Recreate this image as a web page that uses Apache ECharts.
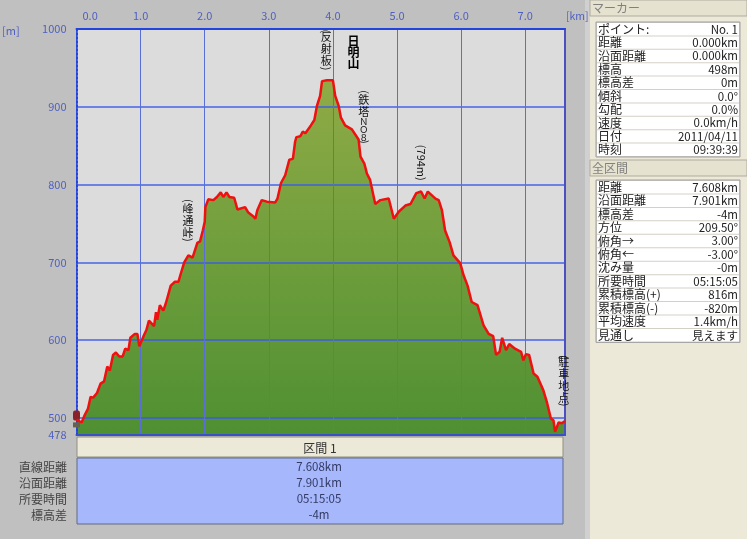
<!DOCTYPE html>
<html>
<head>
<meta charset="utf-8">
<script src="https://cdn.jsdelivr.net/npm/echarts@6/dist/echarts.min.js"></script>
<style>
html,body{margin:0;padding:0;background:#c0c0c0;}
#main{width:747px;height:539px;}
</style>
</head>
<body>
<div id="main"></div>
<script>
var km = [0,0.08,0.13,0.18,0.22,0.26,0.32,0.375,0.43,0.48,0.52,0.57,0.615,0.667,0.72,0.76,0.81,0.84,0.91,0.95,0.98,1.005,1.05,1.09,1.13,1.21,1.24,1.26,1.30,1.354,1.396,1.47,1.536,1.59,1.625,1.68,1.745,1.81,1.885,1.927,1.97,2.0,2.01,2.055,2.135,2.19,2.25,2.29,2.34,2.385,2.46,2.51,2.63,2.68,2.76,2.79,2.82,2.89,2.97,3.1,3.135,3.19,3.255,3.32,3.375,3.41,3.43,3.49,3.53,3.57,3.656,3.71,3.75,3.80,3.83,3.906,4.0,4.036,4.09,4.125,4.19,4.296,4.40,4.43,4.49,4.53,4.58,4.66,4.74,4.87,4.95,5.026,5.13,5.21,5.30,5.375,5.43,5.48,5.6,5.65,5.70,5.75,5.82,5.88,5.985,6.04,6.10,6.165,6.255,6.35,6.43,6.50,6.545,6.6,6.64,6.70,6.75,6.84,6.935,6.97,7.01,7.06,7.13,7.19,7.28,7.335,7.40,7.44,7.465,7.52,7.57,7.62];
var elev = [498,494,504,512,527,526,532,544,547,566,561,581,584,579,579,589,587,603,608,608,592,592,606,613,625,618,636,626,645,638,648,670,675,675,685,700,709,706,725,727,741,752,771,781,780,784,790,784,790,784,783,768,771,764,759,756,767,780,778,777,782,802,812,832,833,855,861,862,868,866,876,883,901,914,933,934,934,914,901,886,876,871,858,836,827,814,806,775,780,782,756,765,773,775,789,791,782,791,782,780,767,741,726,709,699,683,670,649,645,619,608,605,581,585,603,587,595,589,585,574,582,581,557,553,536,521,499,497,482,494,493,496];
var kmTicks = [0,1,2,3,4,5,6,7];
var mTicks = [478,500,600,700,800,900,1000];

// annotations along the profile, c = kanji line, h = short line, b = bold
var noteText = ['{c|峰}\n{c|通}\n{c|峠}','{c|反}\n{c|射}\n{c|板}','{b|日}\n{b|明}\n{b|山}','{c|鉄}\n{c|塔}\n{h|Ｎ}\n{h|Ｏ}\n{h|８}','(794m)','{c|駐}\n{c|車}\n{c|地}\n{c|点}'];
var noteKm = [1.74,3.895,4.32,4.48,5.38,7.6];
var noteM = [753,974,970,886,828,549];
var noteRotate = [0,0,0,0,-90,0];
// the parentheses of the vertical notes, turned on their side
var parenText = ['(',')','(',')','(',')','(',')'];
var parenKm = [1.74,1.74,3.895,3.895,4.48,4.48,7.6,7.6];
var parenM = [779,729,997,949,919,855,578,517];

var markerRows = [['ポイント:','No. 1'],['距離','0.000km'],['沿面距離','0.000km'],['標高','498m'],['標高差','0m'],['傾斜','0.0°'],['勾配','0.0%'],['速度','0.0km/h'],['日付','2011/04/11'],['時刻','09:39:39']];
var totalRows = [['距離','7.608km'],['沿面距離','7.901km'],['標高差','-4m'],['方位','209.50°'],['俯角→','3.00°'],['俯角←','-3.00°'],['沈み量','-0m'],['所要時間','05:15:05'],['累積標高(+)','816m'],['累積標高(-)','-820m'],['平均速度','1.4km/h'],['見通し','見えます']];
var sectionLabels = ['直線距離','沿面距離','所要時間','標高差'];
var sectionValues = ['7.608km','7.901km','05:15:05','-4m'];

var font = '"Noto Sans CJK JP"';

function txt(x,y,s,align,color,size) {
    return {type:'text',x:x,y:y,silent:true,z:10,style:{text:s,align:align,verticalAlign:'middle',fill:color,font:(size||12)+'px '+font}};
}
function box(x,y,w,h,fill,stroke) {
    return {type:'rect',shape:{x:x,y:y,width:w,height:h},silent:true,z:9,style:{fill:fill,stroke:stroke||null,lineWidth:stroke?1:0}};
}
function table(top,rowH,rows,out) {
    out.push(box(596,top,144,rowH*rows.length+1,'#d4d0c8','#a0a0a0'));
    for(var i=0;i<rows.length;i++) {
        out.push(box(597,top+i*rowH+1,142,rowH-1,'#ffffff'));
        out.push(txt(598,top+i*rowH+rowH/2+0.5,rows[i][0],'left','#222222'));
        out.push(txt(738,top+i*rowH+rowH/2+0.5,rows[i][1],'right','#222222',11.5));
    }
}

var g = [];
// right panel
g.push(box(590,0,157,539,'#ece9d8'));
g.push(box(585,0,5,539,'#d0d0d0'));
g.push(box(590,0,157,16,'#e6e2d0','#b0aca0'));
g.push(txt(592,8,'マーカー','left','#808080'));
table(22,13.4,markerRows,g);
g.push(box(590,160,157,16,'#e6e2d0','#b0aca0'));
g.push(txt(592,168,'全区間','left','#808080'));
table(180,13.45,totalRows,g);
// section table under the chart
g.push(box(77,437,486,20,'#ece9d8','#909080'));
g.push(txt(320,448,'区間 1','center','#333333'));
g.push(box(77,458,486,66,'#a6b8fb','#606a88'));
for(var i=0;i<sectionLabels.length;i++) {
    g.push(txt(67,467+i*16,sectionLabels[i],'right','#444444'));
    g.push(txt(319,467+i*16,sectionValues[i],'center','#333a66',11.5));
}
g.push(txt(2,31,'[m]','left','#5060c0',11));
g.push(txt(566,16,'[km]','left','#5060c0',10.5));

var points = [];
for(var i=0;i<km.length;i++) {
    points.push([km[i],elev[i]]);
}

var notes = [];
for(var i=0;i<noteText.length;i++) {
    notes.push({
        coord:[noteKm[i],noteM[i]],
        symbolSize:0,
        label:{
            show:true,
            position:'inside',
            formatter:noteText[i],
            color:'#111111',
            fontFamily:font,
            fontSize:11,
            rotate:noteRotate[i],
            rich:{
                c:{fontFamily:font,fontSize:11,lineHeight:12,color:'#111111'},
                h:{fontFamily:font,fontSize:9,lineHeight:8,color:'#111111'},
                b:{fontFamily:font,fontSize:12,lineHeight:11,fontWeight:'bold',color:'#000000'}
            }
        }
    });
}
for(var i=0;i<parenText.length;i++) {
    notes.push({
        coord:[parenKm[i],parenM[i]],
        symbolSize:0,
        label:{show:true,position:'inside',formatter:parenText[i],color:'#111111',fontFamily:font,fontSize:11,rotate:-90}
    });
}
// walker icon at the start point
notes.push({coord:[0,503],symbol:'roundRect',symbolSize:[7,10],itemStyle:{color:'#8a2028'},label:{show:false}});
notes.push({coord:[0,491],symbol:'rect',symbolSize:[7,5],itemStyle:{color:'#66604c'},label:{show:false}});

var option = {
    animation:false,
    backgroundColor:'#c0c0c0',
    textStyle:{fontFamily:font},
    grid:{left:76.5,right:182,top:29,bottom:104,show:true,backgroundColor:'#dcdcdc',borderWidth:0},
    graphic:g,
    xAxis:[{
        type:'value',
        position:'top',
        min:0,
        max:7.62,
        z:1,
        axisLine:{onZero:false,lineStyle:{color:'#2244dd',width:2}},
        axisTick:{show:false,customValues:kmTicks},
        axisLabel:{customValues:kmTicks,color:'#5060c0',fontSize:11,margin:8,fontFamily:font,alignMinLabel:'left',
            rich:{z:{color:'#5060c0',fontSize:11,fontFamily:font,padding:[0,0,0,6]}},
            formatter:function(v){return v===0?'{z|0.0}':v.toFixed(1);}},
        splitLine:{show:true,lineStyle:{color:'#5a6ed8',width:1}}
    },{
        type:'value',
        position:'bottom',
        min:0,
        max:7.62,
        z:1,
        axisLine:{show:true,onZero:false,lineStyle:{color:'#3a50c8',width:2}},
        axisTick:{show:false},
        axisLabel:{show:false},
        splitLine:{show:false}
    }],
    yAxis:[{
        type:'value',
        min:478,
        max:1000,
        z:1,
        axisLine:{show:true,onZero:false,lineStyle:{color:'#2244dd',width:2,type:'dotted'}},
        axisTick:{show:false,customValues:mTicks},
        axisLabel:{customValues:mTicks,color:'#5060c0',fontSize:11,margin:10,fontFamily:font,
            formatter:function(v){return String(v);}},
        splitLine:{show:true,lineStyle:{color:'#3a5ae8',width:2,opacity:0.7}}
    },{
        type:'value',
        position:'right',
        min:478,
        max:1000,
        z:1,
        axisLine:{show:true,onZero:false,lineStyle:{color:'#4a50c0',width:2}},
        axisTick:{show:false},
        axisLabel:{show:false},
        splitLine:{show:false}
    }],
    series:[{
        type:'line',
        data:points,
        z:0,
        silent:true,
        symbol:'none',
        lineStyle:{width:0},
        areaStyle:{opacity:1,color:new echarts.graphic.LinearGradient(0,0,0,1,[{offset:0,color:'#8fab46'},{offset:1,color:'#4f9032'}])}
    },{
        type:'line',
        data:points,
        z:5,
        silent:true,
        symbol:'none',
        lineStyle:{color:'#f01010',width:2.5},
        markPoint:{silent:true,data:notes}
    }]
};

var chart = echarts.init(document.getElementById('main'),null,{renderer:'canvas'});
chart.setOption(option);
</script>
</body>
</html>
